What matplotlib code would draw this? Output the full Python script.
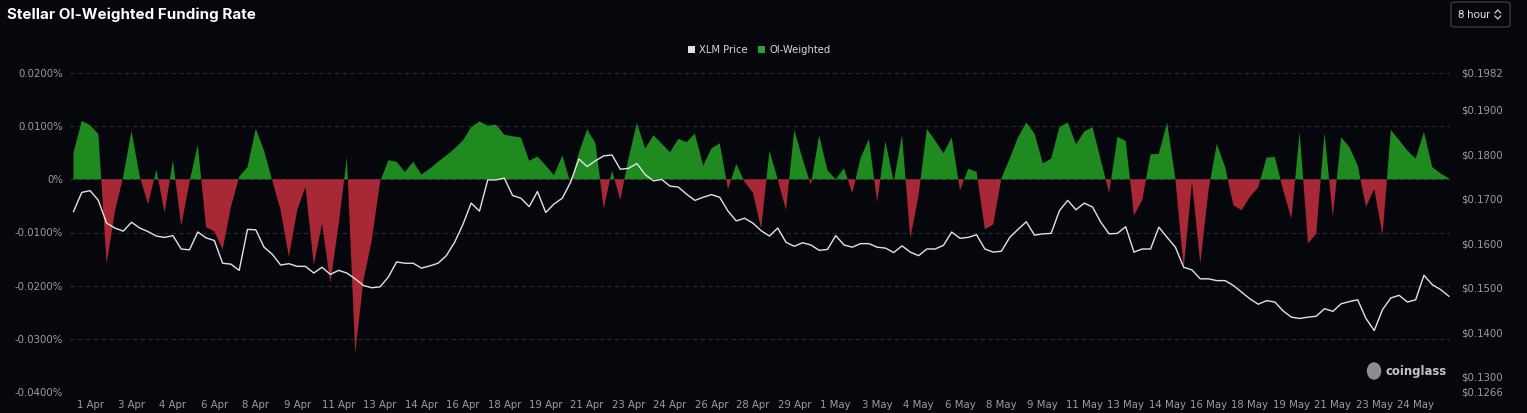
import numpy as np
import matplotlib
matplotlib.use("Agg")
import matplotlib.pyplot as plt
from matplotlib.patches import Patch, FancyBboxPatch, Ellipse
from matplotlib.lines import Line2D

W, H = 1527, 413

# OI-weighted funding rate (in %), one value per 8 hours
funding = [
    0.0050, 0.0110, 0.0102, 0.0085, -0.0159, -0.0060, 0.0005, 0.0091, 0.0005, -0.0047,
    0.0018, -0.0063, 0.0036, -0.0088, -0.0005, 0.0065, -0.0090, -0.0098, -0.0132, -0.0052,
    0.0005, 0.0023, 0.0095, 0.0054, -0.0003, -0.0058, -0.0146, -0.0058, -0.0014, -0.0161,
    -0.0083, -0.0195, -0.0085, 0.0042, -0.0327, -0.0190, -0.0115, -0.0005, 0.0036, 0.0033,
    0.0014, 0.0033, 0.0009, 0.0020, 0.0033, 0.0045, 0.0058, 0.0073, 0.0098, 0.0109,
    0.0101, 0.0103, 0.0084, 0.0081, 0.0079, 0.0035, 0.0043, 0.0026, 0.0008, 0.0045,
    -0.0008, 0.0050, 0.0094, 0.0068, -0.0055, 0.0017, -0.0039, 0.0040, 0.0106, 0.0058,
    0.0083, 0.0067, 0.0051, 0.0076, 0.0070, 0.0086, 0.0026, 0.0058, 0.0068, -0.0019,
    0.0029, -0.0005, -0.0025, -0.0093, 0.0054, 0.0000, -0.0058, 0.0093, 0.0038, -0.0011,
    0.0083, 0.0017, 0.0000, 0.0021, -0.0026, 0.0040, 0.0076, -0.0043, 0.0072, -0.0005,
    0.0084, -0.0111, -0.0030, 0.0095, 0.0073, 0.0049, 0.0079, -0.0021, 0.0020, 0.0014,
    -0.0094, -0.0085, 0.0002, 0.0039, 0.0079, 0.0107, 0.0086, 0.0030, 0.0039, 0.0098,
    0.0107, 0.0066, 0.0090, 0.0098, 0.0036, -0.0026, 0.0080, 0.0072, -0.0068, -0.0039,
    0.0047, 0.0048, 0.0107, 0.0000, -0.0168, -0.0005, -0.0159, -0.0020, 0.0067, 0.0023,
    -0.0049, -0.0058, -0.0033, -0.0015, 0.0041, 0.0042, -0.0020, -0.0074, 0.0089, -0.0121,
    -0.0102, 0.0088, -0.0071, 0.0079, 0.0061, 0.0026, -0.0052, -0.0018, -0.0105, 0.0093,
    0.0074, 0.0054, 0.0039, 0.0089, 0.0023, 0.0011, 0.0002,
]

# XLM price in USD
price = [
    0.1671, 0.1714, 0.1718, 0.1696, 0.1645, 0.1634, 0.1627, 0.1647, 0.1634, 0.1626,
    0.1616, 0.1613, 0.1617, 0.1587, 0.1585, 0.1625, 0.1612, 0.1606, 0.1555, 0.1553,
    0.1539, 0.1631, 0.1630, 0.1591, 0.1575, 0.1551, 0.1554, 0.1548, 0.1548, 0.1533,
    0.1546, 0.1530, 0.1539, 0.1533, 0.1520, 0.1505, 0.1500, 0.1502, 0.1524, 0.1558,
    0.1555, 0.1555, 0.1544, 0.1549, 0.1555, 0.1572, 0.1602, 0.1642, 0.1690, 0.1672,
    0.1742, 0.1742, 0.1746, 0.1707, 0.1701, 0.1682, 0.1716, 0.1669, 0.1688, 0.1701,
    0.1737, 0.1789, 0.1772, 0.1785, 0.1796, 0.1798, 0.1766, 0.1768, 0.1779, 0.1754,
    0.1740, 0.1743, 0.1728, 0.1726, 0.1710, 0.1696, 0.1703, 0.1709, 0.1703, 0.1672,
    0.1650, 0.1656, 0.1645, 0.1628, 0.1616, 0.1634, 0.1602, 0.1593, 0.1601, 0.1596,
    0.1584, 0.1586, 0.1617, 0.1596, 0.1591, 0.1599, 0.1599, 0.1591, 0.1589, 0.1579,
    0.1594, 0.1580, 0.1572, 0.1587, 0.1587, 0.1595, 0.1625, 0.1611, 0.1613, 0.1619,
    0.1587, 0.1580, 0.1582, 0.1613, 0.1631, 0.1648, 0.1618, 0.1621, 0.1622, 0.1673,
    0.1696, 0.1675, 0.1690, 0.1681, 0.1647, 0.1621, 0.1622, 0.1637, 0.1580, 0.1587,
    0.1587, 0.1636, 0.1613, 0.1591, 0.1546, 0.1540, 0.1520, 0.1520, 0.1516, 0.1516,
    0.1505, 0.1490, 0.1475, 0.1463, 0.1471, 0.1468, 0.1448, 0.1434, 0.1431, 0.1434,
    0.1436, 0.1453, 0.1447, 0.1464, 0.1469, 0.1473, 0.1431, 0.1404, 0.1451, 0.1477,
    0.1483, 0.1468, 0.1473, 0.1528, 0.1507, 0.1496, 0.1481,
]

date_labels = ['1 Apr', '3 Apr', '4 Apr', '6 Apr', '8 Apr', '9 Apr', '11 Apr', '13 Apr',
               '14 Apr', '16 Apr', '18 Apr', '19 Apr', '21 Apr', '23 Apr', '24 Apr', '26 Apr',
               '28 Apr', '29 Apr', '1 May', '3 May', '4 May', '6 May', '8 May', '9 May',
               '11 May', '13 May', '14 May', '16 May', '18 May', '19 May', '21 May', '23 May',
               '24 May']

left_ticks = [0.02, 0.01, 0.0, -0.01, -0.02, -0.03, -0.04]
right_ticks = [0.1982, 0.19, 0.18, 0.17, 0.16, 0.15, 0.14, 0.13, 0.1266]

BG = '#05070c'
GREEN = '#1e8a1f'
RED = '#a82835'
GRID = '#2a2d33'
TXT = '#9a9ca3'


def fx(px):
    return px / W


def fy(py):
    return 1 - py / H


x = np.arange(len(funding))
f = np.array(funding)
p = np.array(price)

fig = plt.figure(figsize=(W / 100, H / 100), dpi=100)
fig.patch.set_facecolor(BG)

ax = fig.add_axes([fx(70), fy(392), fx(1450) - fx(70), fy(73) - fy(392)])
ax.set_facecolor(BG)
ax.set_xlim((70 - 73.5) / 8.285, (1450 - 73.5) / 8.285)
ax.set_ylim(-0.04, 0.02)

ax.fill_between(x, f, 0, where=f >= 0, interpolate=True, color=GREEN, lw=0)
ax.fill_between(x, f, 0, where=f <= 0, interpolate=True, color=RED, lw=0)

ax.set_yticks(left_ticks)
ax.set_yticklabels(['0%' if v == 0 else f'{v:.4f}%' for v in left_ticks])
ax.grid(axis='y', color=GRID, ls=(0, (4, 3)), lw=0.8)
ax.set_axisbelow(True)
ax.set_xticks(2 + 5 * np.arange(len(date_labels)))
ax.set_xticklabels(date_labels)
ax.tick_params(axis='both', length=0, colors=TXT, labelsize=7.3)
ax.tick_params(axis='x', pad=5.5)
ax.tick_params(axis='y', pad=5)
for s in ax.spines.values():
    s.set_visible(False)

ax2 = ax.twinx()
ax2.set_ylim(0.1266, 0.1982)
ax2.plot(x, p, color='#e2e2e2', lw=1.0)
ax2.set_yticks(right_ticks)
ax2.set_yticklabels([f'${v:.4f}' for v in right_ticks])
ax2.tick_params(axis='y', length=0, colors=TXT, labelsize=7.3, pad=8)
for s in ax2.spines.values():
    s.set_visible(False)

# title
fig.text(fx(7), fy(15), 'Stellar OI-Weighted Funding Rate', color='white',
         fontsize=10.9, fontweight='bold', family='Inter', va='center', ha='left')

# interval selector
fig.patches.append(FancyBboxPatch((fx(1451), fy(27)), fx(59), 25 / H,
                                  boxstyle='round,pad=0,rounding_size=0.004',
                                  transform=fig.transFigure, facecolor='none',
                                  edgecolor='#3c3f47', lw=0.9))
fig.text(fx(1458), fy(14.5), '8 hour', color='#dddddd', fontsize=8.2,
         va='center', ha='left', family='Roboto')
for yy in ([13, 10, 13], [16, 19, 16]):
    fig.lines.append(Line2D([fx(1495), fx(1497.8), fx(1500.6)], [fy(v) for v in yy],
                            transform=fig.transFigure, color='#cccccc', lw=0.9))

# legend
handles = [Patch(facecolor='#e0e0e0', edgecolor='none', label='XLM Price'),
           Patch(facecolor='#22a336', edgecolor='none', label='OI-Weighted')]
leg = fig.legend(handles=handles, loc='center', bbox_to_anchor=(fx(759), fy(50)),
                 ncol=2, frameon=False, fontsize=7.2, handlelength=0.75,
                 handleheight=0.75, handletextpad=0.4, columnspacing=1.0)
for t in leg.get_texts():
    t.set_color('#d8d8d8')

# watermark
fig.patches.append(Ellipse((fx(1374), fy(371)), fx(13), 16 / H,
                           transform=fig.transFigure, color='#9b9b9b', alpha=0.9))
fig.text(fx(1385), fy(372), 'coinglass', color='#c4c4c4', fontsize=8.4,
         fontweight='bold', va='center', ha='left')

fig.savefig('out.png', dpi=100, facecolor=BG)
